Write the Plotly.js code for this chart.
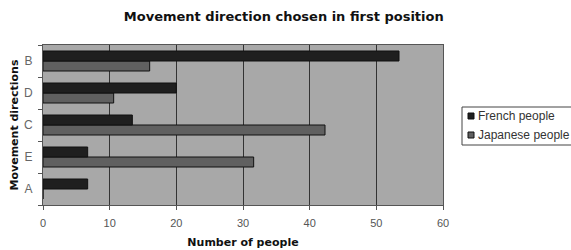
<!DOCTYPE html>
<html>
<head>
<meta charset="utf-8">
<script src="https://cdn.plot.ly/plotly-3.0.1.min.js"></script>
<style>html,body{margin:0;padding:0;background:#fff;}#chart{width:571px;height:250px;}</style>
</head>
<body>
<div id="chart"></div>
<script>
var categories = ["A", "E", "C", "D", "B"];
var frenchPeople = [6.7, 6.7, 13.4, 20, 53.4];
var japanesePeople = [0, 31.6, 42.3, 10.6, 16];
var xTicks = [0, 10, 20, 30, 40, 50, 60];
var seriesNames = ["French people", "Japanese people"];
var seriesColors = ["#1f1f1f", "#606060"];

var traces = [
  {type: "bar", orientation: "h", name: seriesNames[1], y: categories, x: japanesePeople,
   marker: {color: seriesColors[1], line: {color: "#111", width: 1}}},
  {type: "bar", orientation: "h", name: seriesNames[0], y: categories, x: frenchPeople,
   marker: {color: seriesColors[0], line: {color: "#111", width: 1}}}
];

// manual legend (Excel style, small square swatches)
var shapes = [
  {type: "rect", xref: "paper", yref: "paper", x0: 1.0475, x1: 1.34, y0: 0.375, y1: 0.6125,
   fillcolor: "#ffffff", line: {color: "#444", width: 1}}
];
var annotations = [];
var legendY = [0.55625, 0.4375];
for (var i = 0; i < seriesNames.length; i++) {
  shapes.push({type: "rect", xref: "paper", yref: "paper", x0: 1.0625, x1: 1.0775,
               y0: legendY[i] - 0.01875, y1: legendY[i] + 0.01875,
               fillcolor: seriesColors[i], line: {color: "#111", width: 1}});
  annotations.push({xref: "paper", yref: "paper", x: 1.083, y: legendY[i], xanchor: "left", yanchor: "middle",
                    text: seriesNames[i], showarrow: false,
                    font: {size: 12, color: "#333", family: "Arial, Liberation Sans, sans-serif"}});
}

var layout = {
  width: 571, height: 250,
  margin: {l: 43, r: 128, t: 45, b: 45, autoexpand: false},
  paper_bgcolor: "#ffffff",
  plot_bgcolor: "#a8a8a8",
  barmode: "group",
  bargap: 0.375,
  bargroupgap: 0,
  font: {family: "Arial, Liberation Sans, sans-serif", color: "#444"},
  title: {text: "Movement direction chosen in first position", x: 0.497, xanchor: "center", y: 0.935, yanchor: "middle",
          font: {size: 13, color: "#111", weight: "bold", family: "DejaVu Sans, Arial, sans-serif"}},
  xaxis: {range: [0, 60], tickvals: xTicks, ticktext: xTicks.map(String),
          showgrid: true, gridcolor: "#333", gridwidth: 1, zeroline: false,
          showline: true, linecolor: "#555", linewidth: 1, mirror: true,
          ticks: "outside", ticklen: 4, tickcolor: "#555", ticklabelstandoff: 4,
          tickfont: {size: 11, color: "#555"},
          title: {text: "Number of people", standoff: 10, font: {size: 11, color: "#111", weight: "bold", family: "DejaVu Sans, Arial, sans-serif"}}},
  yaxis: {type: "category", categoryorder: "array", categoryarray: categories,
          showgrid: false, zeroline: false, tickson: "boundaries",
          showline: true, linecolor: "#555", linewidth: 1, mirror: true,
          ticks: "outside", ticklen: 4, tickcolor: "#555", ticklabelstandoff: 7,
          tickfont: {size: 12, color: "#666"},
          title: {text: "Movement directions", standoff: 3, font: {size: 11, color: "#111", weight: "bold", family: "DejaVu Sans, Arial, sans-serif"}}},
  showlegend: false,
  shapes: shapes,
  annotations: annotations
};

Plotly.newPlot("chart", traces, layout, {displayModeBar: false, staticPlot: true});
</script>
</body>
</html>
